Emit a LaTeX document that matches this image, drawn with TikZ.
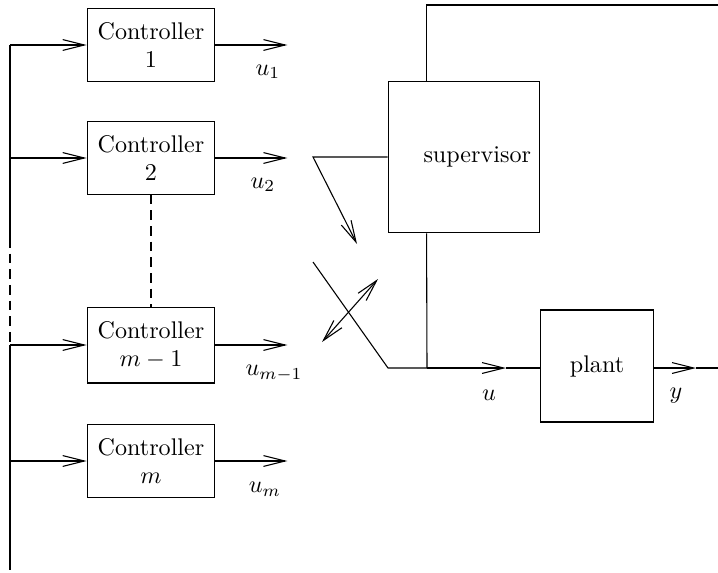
\documentclass[tikz,border=0pt]{standalone}
\usetikzlibrary{arrows.meta}

\tikzset{
  >={Straight Barb[length=9pt,width=4.5pt]},
  block/.style={draw, align=center, inner sep=0pt, minimum width=53pt, minimum height=30pt},
  dashline/.style={dash pattern=on 4pt off 2.5pt},
}

\begin{document}
\begin{tikzpicture}[x=0.415pt, y=-0.415pt, line width=0.45pt]
    \useasboundingbox (0,0) rectangle (718,572);
    % controllers
    \node[block] (c1) at (151,45) {Controller\\1};
    \node[block] (c2) at (151,158) {Controller\\2};
    \node[block, minimum height=31.5pt] (c3) at (151,345) {Controller\\$m-1$};
    \node[block] (c4) at (151,461) {Controller\\$m$};
    \node[block, minimum width=63pt, minimum height=63pt, label={[xshift=5.5pt]center:supervisor}] (sup) at (464,157) {};
    \node[block, minimum width=47pt, minimum height=46.5pt] (plant) at (597,366) {plant};

    % input bus
    \coordinate (bt) at (10,45);
    \coordinate (bb) at (10,570);
    \draw (bt) -- (10,238);
    \draw[dashline] (10,238) -- (10,345);
    \draw (10,345) -- (bb);
    \draw[->] (bt) -- (c1.west);
    \draw[->] (c2.west -| bt) -- (c2.west);
    \draw[->] (c3.west -| bt) -- (c3.west);
    \draw[->] (c4.west -| bt) -- (c4.west);
    \draw[dashline] (c2.south) -- (c3.north);

    % controller outputs
    \draw[->] (c1.east) -- ++(72,0) coordinate (o1);
    \draw[->] (c2.east) -- ++(72,0) coordinate (o2);
    \draw[->] (c3.east) -- ++(72,0) coordinate (o3);
    \draw[->] (c4.east) -- ++(72,0) coordinate (o4);
    \node (u1) at (268,72) {$u_1$};
    \node (u2) at (263,185) {$u_2$};
    \node (u3) at (274,373) {$u_{m-1}$};
    \node (u4) at (265,489) {$u_m$};

    % supervisor and switch
    \coordinate (tr) at (718,5);
    \coordinate (s1) at (313,157);
    \coordinate (s2) at (357,244);
    \coordinate (sw) at (313,262);
    \coordinate (sc) at (388,368);
    \coordinate (j) at (427,368);
    \coordinate (ua) at (506,368);
    \coordinate (da1) at (322,342);
    \coordinate (da2) at (378,279);
    \draw (sup.north west) ++(39,0) |- (tr);
    \draw[->] (sup.west) -- (s1) -- (s2);
    \draw (sup.south west) ++(39,0) -- (j);
    \draw (sw) -- (sc) -- (j);
    \draw[<->] (da1) -- (da2);

    % plant
    \draw[->] (j) -- (ua);
    \draw (ua) -- (plant.west |- ua);
    \coordinate (ya) at (696,368);
    \draw[->] (plant.east |- ya) -- (ya);
    \draw (ya) -- (718,368);
    \node (ul) at (489,395) {$u$};
    \node (yl) at (676,396) {$y$};
\end{tikzpicture}
\end{document}
